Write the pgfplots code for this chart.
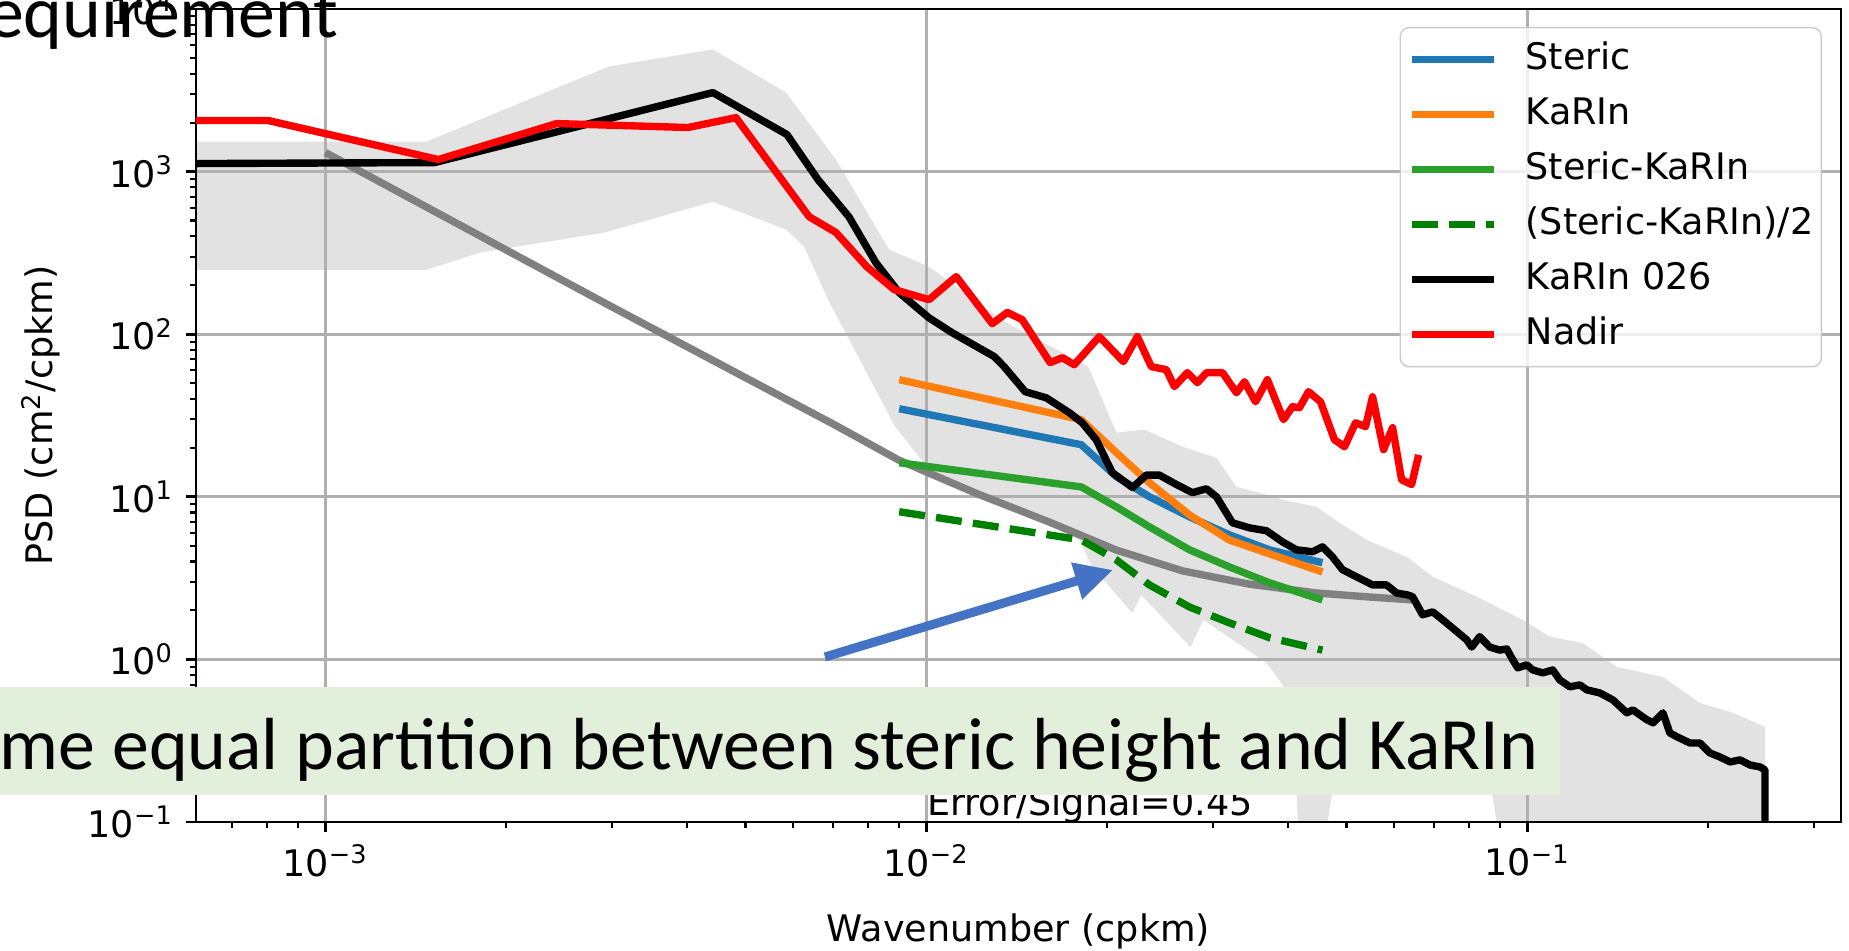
\documentclass[border=0pt]{standalone}
\usepackage{fontspec}
\setmainfont{DejaVu Sans}
\newfontfamily\calibri{Carlito}
\usepackage{pgfplots}
\pgfplotsset{compat=1.18}
\usetikzlibrary{arrows.meta}

\definecolor{tabblue}{HTML}{1F77B4}
\definecolor{taborange}{HTML}{FF7F0E}
\definecolor{tabgreen}{HTML}{2CA02C}
\definecolor{dgreen}{HTML}{008000}
\definecolor{bandgray}{RGB}{226,226,226}
\definecolor{reqgray}{HTML}{808080}
\definecolor{boxgreen}{HTML}{E2EFDA}
\definecolor{arrowblue}{HTML}{4472C4}
\newcommand\mpl{\fontsize{10.4}{12.5}\selectfont}

\begin{document}
\begin{tikzpicture}
\begin{axis}[
    set layers, clip mode=individual,
    at={(1.96cm,1.29cm)}, anchor=south west,
    scale only axis, width=16.45cm, height=8.13cm,
    xmode=log, ymode=log,
    xmin=6.09e-4, xmax=0.3326, ymin=0.1, ymax=1e4,
    xtick={1e-3,1e-2,1e-1},
    xticklabels={10\textsuperscript{−3},10\textsuperscript{−2},10\textsuperscript{−1}},
    ytick={0.1,1,10,100,1000,10000},
    yticklabels={10\textsuperscript{−1},10\textsuperscript{0},10\textsuperscript{1},10\textsuperscript{2},10\textsuperscript{3},10\textsuperscript{4}},
    minor xtick={7e-4,8e-4,9e-4,2e-3,3e-3,4e-3,5e-3,6e-3,7e-3,8e-3,9e-3,
                 0.02,0.03,0.04,0.05,0.06,0.07,0.08,0.09,0.2,0.3},
    minor ytick={0.2,0.3,0.4,0.5,0.6,0.7,0.8,0.9,2,3,4,5,6,7,8,9,
                 20,30,40,50,60,70,80,90,200,300,400,500,600,700,800,900,
                 2000,3000,4000,5000,6000,7000,8000,9000},
    tick align=outside, tick pos=left,
    major tick length=0.1cm, minor tick length=0.06cm,
    major tick style={black, line width=0.8pt},
    minor tick style={black, line width=0.6pt},
    xmajorgrids, ymajorgrids,
    major grid style={line width=0.8pt, color=black!31},
    axis line style={line width=0.8pt},
    tick label style={font=\mpl},
    xlabel={Wavenumber (cpkm)},
    ylabel={PSD (cm\textsuperscript{2}/cpkm)},
    every axis x label/.style={at={(axis description cs:0.5,-0.1476)}, anchor=base, font=\mpl},
    every axis y label/.style={at={(axis description cs:-0.087,0.5)}, anchor=base, rotate=90, font=\mpl},
    legend style={at={(1,1)}, anchor=north east, xshift=-0.19cm, yshift=-0.18cm,
        draw=black!20, rounded corners=2.5pt, fill=white, fill opacity=0.8,
        draw opacity=1, text opacity=1, font=\mpl,
        inner xsep=0.08cm, inner ysep=0.15cm, row sep=0.21cm,
        nodes={inner sep=0pt, text height=0.27cm, text depth=0.07cm},
        /tikz/every odd column/.append style={column sep=0.28cm}},
    legend cell align=left,
    legend image code/.code={\draw[#1] (0cm,0cm) -- (0.82cm,0cm);},
    every axis plot/.append style={line width=2.1pt, line join=round},
]
% shaded envelope (upper edge, then lower edge backwards)
\addplot[fill=bandgray, draw=none, on layer=axis background, forget plot] table {
x y
6.09e-4 1530
1.473e-3 1530
2.960e-3 4426
4.412e-3 5636
5.84e-3 3062
7.07e-3 1186
8.67e-3 331
0.01010 260
0.01121 196
0.01331 123
0.01860 63.1
0.02070 24.8
0.02305 25.9
0.02667 20.3
0.03038 17.4
0.03281 11.5
0.03681 10.3
0.03914 9.59
0.04459 8.67
0.04868 6.92
0.05400 5.43
0.06297 4.27
0.06959 3.22
0.08236 2.43
0.09826 1.75
0.1090 1.38
0.1237 1.26
0.1409 0.899
0.1681 0.780
0.1937 0.540
0.2198 0.469
0.2485 0.385
0.2485 0.05
0.09171 0.05
0.08658 0.181
0.04776 0.181
0.04509 0.05
0.04176 0.05
0.04082 0.564
0.03681 0.95
0.02891 1.75
0.02750 1.19
0.02278 2.49
0.02202 1.93
0.01888 3.71
0.01796 5.43
0.0160 6.73
0.01321 8.93
0.01010 14.7
8.87e-3 27.0
6.86e-3 163
6.26e-3 345
5.84e-3 440
4.412e-3 653
2.916e-3 422
1.812e-3 318
1.473e-3 249
6.09e-4 249
} -- cycle;
% requirement curve
\addplot[reqgray, forget plot] table {
x y
1e-3 1309
2e-3 329
3e-3 147
5e-3 54
7e-3 28
9e-3 16.8
0.0121 10.5
0.016 7.0
0.0207 4.7
0.0267 3.5
0.0345 2.9
0.0446 2.56
0.0545 2.42
0.0645 2.32
};
\addplot[tabblue] table {
x y
0.00901 34.8
0.0181 20.9
0.0207 13.3
0.0235 10.0
0.0274 7.53
0.0319 5.84
0.0372 4.72
0.0456 3.93
};
\addlegendentry{Steric}
\addplot[taborange] table {
x y
0.00901 52.5
0.0181 29.8
0.0207 18.7
0.0235 12.2
0.0274 7.74
0.0319 5.43
0.0372 4.46
0.0456 3.45
};
\addlegendentry{KaRIn}
\addplot[tabgreen] table {
x y
0.00901 16.2
0.0181 11.5
0.0207 8.67
0.0235 6.53
0.0274 4.72
0.0319 3.71
0.0372 2.96
0.0456 2.32
};
\addlegendentry{Steric-KaRIn}
\addplot[dgreen, dash pattern=on 7.4pt off 3.2pt, line cap=butt] table {
x y
0.00901 8.09
0.0181 5.43
0.0207 4.09
0.0235 2.87
0.0274 2.10
0.0319 1.68
0.0372 1.36
0.0456 1.14
};
\addlegendentry{(Steric-KaRIn)/2}
\addplot[black] table {
x y
6.09e-4 1120
1.519e-3 1136
4.412e-3 3062
5.86e-3 1690
6.60e-3 893
7.43e-3 528
8.24e-3 275
9.01e-3 180
0.01010 126
0.01104 102
0.01297 72.8
0.01347 63.1
0.01460 44.3
0.01583 40.6
0.01729 32.9
0.01817 28.5
0.01917 22.4
0.02038 14.1
0.02202 11.4
0.02323 13.6
0.02441 13.6
0.02606 11.9
0.02771 10.6
0.02924 11.2
0.03038 10.0
0.03230 6.92
0.03449 6.44
0.03681 6.18
0.03914 5.28
0.04128 4.72
0.04390 4.59
0.04561 4.92
0.04739 4.27
0.04925 3.56
0.05196 3.22
0.05526 2.87
0.05830 2.87
0.06058 2.56
0.06322 2.49
0.06441 2.43
0.06694 1.88
0.06959 1.96
0.07231 1.75
0.07925 1.32
0.08079 1.19
0.08330 1.38
0.08658 1.19
0.08995 1.14
0.09241 1.16
0.09456 0.993
0.09638 0.887
0.09977 0.925
0.1021 0.861
0.1061 0.826
0.1102 0.861
0.1132 0.748
0.1177 0.678
0.1223 0.697
0.1256 0.649
0.1320 0.622
0.1387 0.564
0.1464 0.469
0.1498 0.489
0.1581 0.425
0.1618 0.407
0.1681 0.469
0.1726 0.353
0.1774 0.334
0.1864 0.306
0.1937 0.306
0.2012 0.266
0.2091 0.251
0.2174 0.234
0.2259 0.241
0.2347 0.224
0.2438 0.218
0.2485 0.209
0.2485 0.01
};
\addlegendentry{KaRIn 026}
\addplot[red] table {
x y
6.09e-4 2061
8.03e-4 2061
1.542e-3 1186
2.425e-3 1974
4.01e-3 1866
4.82e-3 2147
6.38e-3 528
7.07e-3 422
7.96e-3 260
8.84e-3 188
0.01010 163
0.01121 226
0.01287 116
0.01363 136
0.01443 123
0.01607 66.8
0.01683 71.7
0.01762 64.9
0.01940 96.6
0.02127 67.8
0.02244 96.6
0.02367 63.1
0.02507 60.5
0.02586 47.6
0.02718 58.0
0.02825 50.3
0.02924 58.0
0.03110 58.0
0.03281 43.6
0.03383 51.0
0.03529 38.4
0.03694 52.5
0.03928 29.8
0.04066 35.8
0.04176 35.3
0.04323 44.3
0.04527 38.4
0.04776 22.4
0.04963 20.3
0.05177 28.5
0.05379 27.0
0.05526 41.2
0.05764 19.5
0.05967 26.6
0.06177 12.7
0.06418 11.9
0.06593 18.1
};
\addlegendentry{Nadir}
\node[anchor=base west, inner sep=0pt, font=\mpl] at (axis cs:0.01,0.109) {Error/Signal=0.45};
\end{axis}
% slide overlays
\draw[arrowblue, line width=0.09cm, -{Triangle[length=0.38cm,width=0.36cm]}] (8.25,2.94) -- (11.13,3.81);
\fill[boxgreen] (0,1.56) rectangle (15.60,2.64);
\node[anchor=base east, inner sep=0pt, font=\calibri\fontsize{21}{25}\selectfont] at (15.39,1.81) {Assume equal partition between steric height and KaRIn};
\node[anchor=base east, inner sep=0pt, font=\calibri\fontsize{21}{25}\selectfont] at (3.39,9.13) {requirement};
\pgfresetboundingbox
\useasboundingbox (0,0) rectangle (18.49,9.51);
\end{tikzpicture}
\end{document}
